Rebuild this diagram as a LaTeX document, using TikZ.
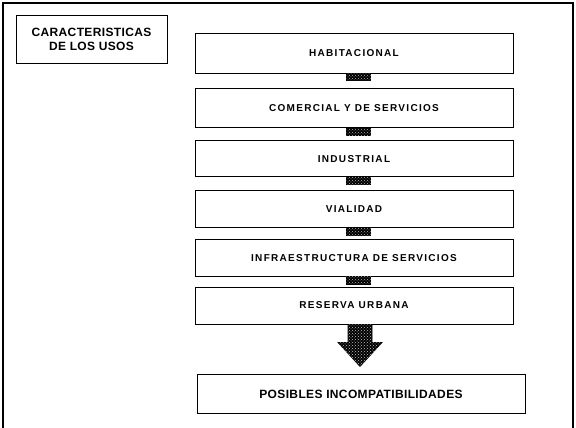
\documentclass[tikz,border=0pt]{standalone}
\usepackage{fontspec}
\setmainfont{Liberation Sans}
\newfontfamily\usofont[LetterSpace=13]{Liberation Sans}
\newfontfamily\titlefont[LetterSpace=3]{Liberation Sans}
\usepackage{tikz}
\usetikzlibrary{positioning, patterns, calc}
\tikzset{
	node distance=12pt,
	uso/.style={draw, line width=0.8pt, minimum width=318pt, minimum height=37pt, inner sep=0pt,
		font=\usofont\bfseries\fontsize{10}{12}\selectfont},
	joint/.style={draw, line width=0.5pt, fill=black, minimum width=24pt, minimum height=7pt, inner sep=0pt,
		postaction={pattern=crosshatch dots, pattern color=white!70!black}},
	bigarrow/.style={draw, line width=0.8pt, fill=black,
		postaction={pattern=crosshatch dots, pattern color=white!75!black}},
	titlebox/.style={draw, line width=0.8pt, inner sep=0pt, align=center,
		font=\titlefont\bfseries\fontsize{12}{14}\selectfont},
}

\begin{document}
\begin{tikzpicture}
			\useasboundingbox (0,0) rectangle (576pt,-428pt);
			\draw[line width=1.6pt] (3pt,-430pt) -- (3pt,-3pt) -- (573pt,-3pt) -- (573pt,-430pt);
			
			\node[titlebox, minimum width=151pt, minimum height=48pt] (TITLE) at (91.5pt,-39pt) {CARACTERISTICAS\\DE LOS USOS};
			
			\node[uso, minimum height=40pt] (HAB) at (354pt,-53pt) {HABITACIONAL};
			\node[uso, minimum height=39pt, below=15pt of HAB] (COM) {COMERCIAL Y DE SERVICIOS};
			\node[uso, minimum height=36pt, below=12pt of COM] (IND) {INDUSTRIAL};
			\node[uso, below=13pt of IND] (VIA) {VIALIDAD};
			\node[uso, below=11pt of VIA] (INF) {INFRAESTRUCTURA DE SERVICIOS};
			\node[uso, below=10pt of INF] (RES) {RESERVA URBANA};
			\node[uso, minimum width=328pt, minimum height=39pt, below=50pt of RES, xshift=7pt,
				font=\titlefont\bfseries\fontsize{12}{14}\selectfont] (POS) {POSIBLES INCOMPATIBILIDADES};
			
			\node[joint, below=0pt of HAB, xshift=4.5pt] (j1) {};
			\node[joint, below=0pt of COM, xshift=4.5pt] (j2) {};
			\node[joint, below=0pt of IND, xshift=4.5pt] (j3) {};
			\node[joint, below=0pt of VIA, xshift=4.5pt] (j4) {};
			\node[joint, below=0pt of INF, xshift=4.5pt] (j5) {};
			
			\filldraw[bigarrow] ([xshift=-6pt]RES.south) -- ++(0,-18pt) -- ++(-10pt,0)
				-- ($([xshift=6pt]RES.south)!0.84!([xshift=-1pt]POS.north)$) -- ++(22pt,24pt)
				-- ++(-10pt,0) -- ([xshift=18pt]RES.south) -- cycle;
		\end{tikzpicture}
\end{document}
